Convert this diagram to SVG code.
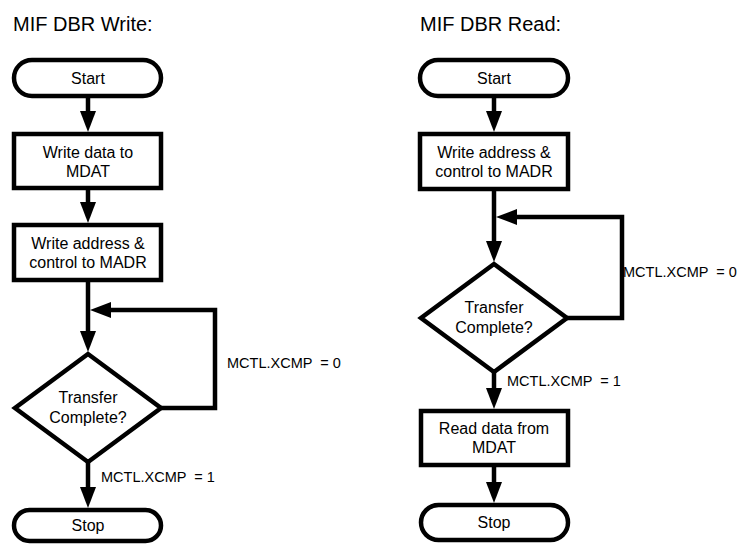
<svg xmlns="http://www.w3.org/2000/svg" width="750" height="544" viewBox="0 0 750 544">
<style>
text{font-family:"Liberation Sans",Arial,sans-serif;fill:#000}
.title{font-size:20px}
.t{font-size:16px;text-anchor:middle}
.lbl{font-size:14.5px;white-space:pre}
.shape{fill:#fff;stroke:#000;stroke-width:4.5}
.conn{fill:none;stroke:#000;stroke-width:4.5}
</style>
<defs>
<marker id="ah" markerUnits="userSpaceOnUse" markerWidth="21" markerHeight="16" refX="0" refY="8" orient="auto" overflow="visible">
<path d="M0,0 L21,8 L0,16 Z" fill="#000"/>
</marker>
</defs>
<text class="title" x="13" y="31">MIF DBR Write:</text>
<text class="title" x="420" y="31">MIF DBR Read:</text>

<g id="connectors">
<line class="conn" x1="88" y1="98" x2="88" y2="111" marker-end="url(#ah)"/>
<line class="conn" x1="88" y1="190" x2="88" y2="202" marker-end="url(#ah)"/>
<line class="conn" x1="88" y1="282" x2="88" y2="331" marker-end="url(#ah)"/>
<path class="conn" d="M161,408 H215 V310 H111" marker-end="url(#ah)"/>
<line class="conn" x1="88" y1="462" x2="88" y2="487" marker-end="url(#ah)"/>
<line class="conn" x1="494" y1="98" x2="494" y2="111" marker-end="url(#ah)"/>
<line class="conn" x1="494" y1="191" x2="494" y2="241" marker-end="url(#ah)"/>
<path class="conn" d="M567,318 H622 V217 H517" marker-end="url(#ah)"/>
<line class="conn" x1="494" y1="372" x2="494" y2="388" marker-end="url(#ah)"/>
<line class="conn" x1="494" y1="467" x2="494" y2="482" marker-end="url(#ah)"/>
<text class="lbl" x="227" y="368">MCTL.XCMP  = 0</text>
<text class="lbl" x="101" y="482">MCTL.XCMP  = 1</text>
<text class="lbl" x="623" y="277">MCTL.XCMP  = 0</text>
<text class="lbl" x="507" y="386">MCTL.XCMP  = 1</text>
</g>

<g id="w-start">
<rect class="shape" x="14" y="60" width="147" height="36" rx="18"/>
<text class="t" x="88" y="84">Start</text>
</g>
<g id="w-data">
<rect class="shape" x="14" y="134" width="147" height="54"/>
<text class="t" x="88" y="158">Write data to</text>
<text class="t" x="88" y="177">MDAT</text>
</g>
<g id="w-addr">
<rect class="shape" x="14" y="225" width="147" height="55"/>
<text class="t" x="88" y="249">Write address &amp;</text>
<text class="t" x="88" y="268">control to MADR</text>
</g>
<g id="w-check">
<polygon class="shape" points="88,354 161,408 88,462 15,408"/>
<text class="t" x="88" y="403">Transfer</text>
<text class="t" x="88" y="423">Complete?</text>
</g>
<g id="w-stop">
<rect class="shape" x="14" y="510" width="147" height="31" rx="15.5"/>
<text class="t" x="88" y="531">Stop</text>
</g>

<g id="r-start">
<rect class="shape" x="420" y="60" width="148" height="36" rx="18"/>
<text class="t" x="494" y="84">Start</text>
</g>
<g id="r-addr">
<rect class="shape" x="420" y="134" width="148" height="55"/>
<text class="t" x="494" y="158">Write address &amp;</text>
<text class="t" x="494" y="177">control to MADR</text>
</g>
<g id="r-check">
<polygon class="shape" points="494,264 567,318 494,372 421,318"/>
<text class="t" x="494" y="313">Transfer</text>
<text class="t" x="494" y="333">Complete?</text>
</g>
<g id="r-read">
<rect class="shape" x="421" y="411" width="147" height="54"/>
<text class="t" x="494" y="434">Read data from</text>
<text class="t" x="494" y="453">MDAT</text>
</g>
<g id="r-stop">
<rect class="shape" x="421" y="505" width="147" height="35" rx="17.5"/>
<text class="t" x="494" y="528">Stop</text>
</g>
</svg>
